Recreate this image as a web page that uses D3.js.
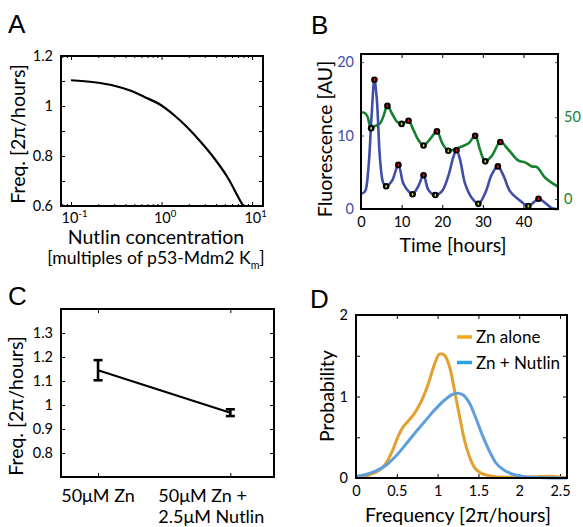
<!DOCTYPE html>
<html><head><meta charset="utf-8">
<script src="https://cdn.jsdelivr.net/npm/d3@7"></script>
<style>
html,body{margin:0;padding:0;background:#fff;}
text{font-family:Lato,"Open Sans",sans-serif;}
</style></head>
<body><svg id="c" width="583" height="527"></svg>
<script>
// ---------- DATA ----------
// Panel A: model frequency vs Nutlin concentration
const aNutlin = [0.1, 0.18, 0.30, 0.458, 0.64, 0.98, 1.37, 1.92, 2.70, 3.78, 5.31, 7.76, 8.0];
const aFreq   = [1.103, 1.095, 1.081, 1.061, 1.037, 1.004, 0.964, 0.915, 0.857, 0.793, 0.717, 0.608, 0.6];
const aXTicks = [0.1, 1, 10];
const aXTickExp = ["-1", "0", "1"];
const aYTicks = [0.6, 0.7, 0.8, 0.9, 1.0, 1.1, 1.2];

// Panel B: fluorescence traces
const bBlueT = [0.16,1,1.8,2.6,3.3,3.9,4.7,5.5,6.2,7.6,9.2,10.4,11.7,12.7,14.1,15.4,16.6,18.3,19.9,21.5,22.8,23.5,24.4,25.6,27.3,28.9,30.6,32.2,33.7,35.1,36.7,38.8,41.2,42.5,43.7,45.4,47,48.5];
const bBlueV = [2.1,2.4,5.4,12.6,17.6,14.9,6.7,3.5,3.1,3.8,6.0,3.5,2.4,2.0,3.1,4.6,2.6,1.9,2.4,4.5,7.2,8.0,6.7,3.5,1.5,0.7,2.2,4.7,5.8,4.5,2.4,1.3,0.4,0.9,1.4,0.8,0.1,0];
const bGreenT = [0.2,1,1.6,2.5,3.5,4.7,5.5,6.5,7.6,8.8,10,10.8,11.7,12.9,14.1,15.4,17,18.7,20,21.5,23.2,24.8,26.5,28.1,29.3,30.6,32.2,34.3,36.3,38.8,40.4,42.1,43.3,45.4,48.5];
const bGreenV = [53,52.4,50.4,43.3,44.7,46.3,50.4,56.9,52.4,47.4,45.9,46.8,47.8,42.3,36.2,32.7,36.6,41.3,34.1,29.5,30.5,32.1,34.1,38.6,30.1,23,26.4,34.8,30.1,23.4,22.4,19.9,19.5,12.8,7.5];
const bBluePeakT = [3.3, 9.2, 15.4, 23.5, 33.7, 43.7];
const bBluePeakV = [17.6, 6.0, 4.6, 8.0, 5.8, 1.4];
const bBlueTroughT = [6.2, 12.7, 18.3, 28.9, 41.2];
const bBlueTroughV = [3.1, 2.0, 1.9, 0.7, 0.4];
const bGreenPeakT = [6.5, 11.7, 18.7, 28.1, 34.3];
const bGreenPeakV = [56.9, 47.8, 41.3, 38.6, 34.8];
const bGreenTroughT = [2.5, 10, 15.4, 21.5, 30.6];
const bGreenTroughV = [43.3, 45.9, 32.7, 29.5, 23];
const bXTicks = [0, 10, 20, 30, 40];
const bYLTicks = [0, 10, 20];
const bYRTicks = [0, 50];

// Panel C: measured frequency
const cCategories = ["50\u03BCM Zn", "50\u03BCM Zn +|2.5\u03BCM Nutlin"];
const cMean = [1.145, 0.968];
const cErr  = [0.042, 0.014];
const cYTicks = [0.8, 0.9, 1.0, 1.1, 1.2, 1.3];

// Panel D: frequency distributions
const dSeries = ["Zn alone", "Zn + Nutlin"];
const dZnX = [0,0.11,0.19,0.28,0.36,0.44,0.52,0.58,0.64,0.72,0.80,0.88,0.96,1.02,1.05,1.09,1.15,1.21,1.27,1.33,1.39,1.45,1.53,1.65,1.81,2.0,2.2,2.38,2.5,2.585];
const dZnY = [0.017,0.02,0.05,0.09,0.17,0.32,0.52,0.63,0.70,0.80,0.94,1.14,1.39,1.52,1.525,1.50,1.35,1.06,0.75,0.46,0.26,0.13,0.06,0.025,0.01,0.01,0.015,0.02,0.01,0.004];
const dNutX = [0,0.11,0.23,0.36,0.48,0.60,0.72,0.84,0.96,1.09,1.17,1.24,1.31,1.39,1.47,1.55,1.63,1.71,1.81,1.94,2.1,2.3,2.585];
const dNutY = [0.02,0.04,0.08,0.15,0.26,0.40,0.55,0.69,0.83,0.96,1.02,1.04,1.02,0.92,0.73,0.52,0.34,0.19,0.10,0.04,0.012,0.004,0];
const dXTicks = [0, 0.5, 1, 1.5, 2, 2.5];
const dYTicks = [0, 0.5, 1, 1.5, 2];

// ---------- DRAW ----------
const svg = d3.select("#c");
const TICKFS = 14.5, TITLEFS = 19.5;

function box(x0, y0, x1, y1){
  svg.append("rect").attr("x",x0).attr("y",y0).attr("width",x1-x0).attr("height",y1-y0)
    .attr("fill","none").attr("stroke","#000").attr("stroke-width",2);
}
function styleAxis(g, color){
  g.select(".domain").remove();
  g.selectAll(".tick line").attr("stroke", color||"#000").attr("stroke-width",1);
  g.selectAll(".tick text").attr("font-size",TICKFS).attr("fill", color||"#000").attr("font-family","Lato");
}
function letter(t, x, y){
  svg.append("text").attr("x",x).attr("y",y).text(t).attr("font-size",26)
    .style("font-family","'Liberation Sans',Arial,sans-serif");
}
function ytitle(t, x, y, color){
  return svg.append("text").attr("transform",`translate(${x},${y}) rotate(-90)`)
    .attr("text-anchor","middle").attr("font-size",TITLEFS).attr("fill",color||"#000").text(t);
}

// ===== Panel A =====
{
  const L=61,R=263,T=56,B=206;
  const x = d3.scaleLog().domain([0.0775, 13.2]).range([L,R]);
  const y = d3.scaleLinear().domain([0.6,1.2]).range([B,T]);
  const minor = [];
  [0.01,0.1,1,10].forEach(d=>{ for(let k=2;k<=9;k++){ const v=d*k; if(v>0.0775&&v<13.2) minor.push(v);} });
  svg.append("g").attr("transform",`translate(0,${B})`).call(d3.axisBottom(x).tickValues(minor).tickSize(-2).tickFormat("")).call(styleAxis);
  svg.append("g").attr("transform",`translate(0,${T})`).call(d3.axisTop(x).tickValues(minor).tickSize(-2).tickFormat("")).call(styleAxis);
  svg.append("g").attr("transform",`translate(0,${T})`).call(d3.axisTop(x).tickValues(aXTicks).tickSize(-4).tickFormat("")).call(styleAxis);
  const gx = svg.append("g").attr("transform",`translate(0,${B})`)
    .call(d3.axisBottom(x).tickValues(aXTicks).tickSize(-4).tickPadding(7).tickFormat(()=>""));
  styleAxis(gx);
  gx.selectAll(".tick text").each(function(d,i){
    const t=d3.select(this);
    t.append("tspan").text("10");
    t.append("tspan").text(aXTickExp[i]).attr("dy",-6).attr("font-size",9.5);
  }).attr("dy","0.71em").attr("dx","3");
  const fmt = v => (Math.round(v*10)%2===0 ? (Math.abs(v-1)<1e-9?"1":v.toFixed(1)) : "");
  const gy = svg.append("g").attr("transform",`translate(${L},0)`)
    .call(d3.axisLeft(y).tickValues(aYTicks).tickSize(-4).tickPadding(8).tickFormat(fmt));
  styleAxis(gy);
  svg.append("g").attr("transform",`translate(${R},0)`)
    .call(d3.axisRight(y).tickValues(aYTicks).tickSize(-4).tickFormat("")).call(styleAxis);
  const line = d3.line().x((d,i)=>x(aNutlin[i])).y(d=>y(d)).curve(d3.curveMonotoneX);
  svg.append("path").attr("d",line(aFreq)).attr("fill","none").attr("stroke","#000").attr("stroke-width",2.2);
  box(L,T,R,B);
  letter("A", 8, 33);
  ytitle("Freq. [2\u03C0/hours]", 25, 134);
  svg.append("text").attr("x",156).attr("y",244).attr("text-anchor","middle").attr("font-size",TITLEFS).text("Nutlin concentration");
  const t2 = svg.append("text").attr("x",156).attr("y",264).attr("text-anchor","middle").attr("font-size",17.6);
  t2.append("tspan").text("[multiples of p53-Mdm2 K");
  t2.append("tspan").text("m").attr("font-size",10.5).attr("dy",5);
  t2.append("tspan").text("]").attr("dy",-5);
}

// ===== Panel B =====
{
  const L=361,R=558,T=54,B=209;
  const x = d3.scaleLinear().domain([0,48.5]).range([L,R]);
  const yl = d3.scaleLinear().domain([0,21.1]).range([B,T]);
  const yr = d3.scaleLinear().domain([-6.1,88.6]).range([B,T]);
  const blue="#3f4ea6", green="#16812f";
  const gx = svg.append("g").attr("transform",`translate(0,${B})`)
    .call(d3.axisBottom(x).tickValues(bXTicks).tickSize(-4).tickPadding(8).tickFormat(d3.format("d")));
  styleAxis(gx);
  svg.append("g").attr("transform",`translate(0,${T})`)
    .call(d3.axisTop(x).tickValues(bXTicks).tickSize(-4).tickFormat("")).call(styleAxis);
  const gyl = svg.append("g").attr("transform",`translate(${L},0)`)
    .call(d3.axisLeft(yl).tickValues(bYLTicks).tickSize(-3).tickPadding(7).tickFormat(d3.format("d")));
  styleAxis(gyl, blue);
  svg.append("g").attr("transform",`translate(${R},0)`)
    .call(d3.axisRight(yl).tickValues(bYLTicks).tickSize(-3).tickFormat("")).call(g=>styleAxis(g,blue));
  const gyr = svg.append("g").attr("transform",`translate(${R},0)`)
    .call(d3.axisRight(yr).tickValues(bYRTicks).tickSize(-3).tickPadding(6).tickFormat(d3.format("d")));
  styleAxis(gyr, green);
  const lb = d3.line().x((d,i)=>x(bBlueT[i])).y(d=>yl(d)).curve(d3.curveCatmullRom.alpha(0.5));
  const lg = d3.line().x((d,i)=>x(bGreenT[i])).y(d=>yr(d)).curve(d3.curveCatmullRom.alpha(0.5));
  svg.append("path").attr("d",lg(bGreenV)).attr("fill","none").attr("stroke",green).attr("stroke-width",2.6);
  svg.append("path").attr("d",lb(bBlueV)).attr("fill","none").attr("stroke",blue).attr("stroke-width",2.6);
  function dots(ts, vs, ys, col){
    const g = svg.append("g");
    ts.forEach((t,i)=>{
      g.append("circle").attr("cx",x(t)).attr("cy",ys(vs[i])).attr("r",3.3).attr("fill","#000");
      g.append("ellipse").attr("cx",x(t)).attr("cy",ys(vs[i])).attr("rx",0.9).attr("ry",1.6).attr("fill",col);
    });
  }
  dots(bGreenPeakT,bGreenPeakV,yr,"#e01010");
  dots(bGreenTroughT,bGreenTroughV,yr,"#a6d632");
  dots(bBluePeakT,bBluePeakV,yl,"#e01010");
  dots(bBlueTroughT,bBlueTroughV,yl,"#a6d632");
  box(L,T,R,B);
  letter("B", 311, 34);
  ytitle("Fluorescence [AU]", 332, 139);
  svg.append("text").attr("x",453).attr("y",252).attr("text-anchor","middle").attr("font-size",TITLEFS).text("Time [hours]");
}

// ===== Panel C =====
{
  const L=61,R=274,T=309,B=477;
  const x = d3.scaleLinear().domain([0.72,2.33]).range([L,R]);
  const y = d3.scaleLinear().domain([0.7,1.4]).range([B,T]);
  const cx = [1,2];
  svg.append("g").attr("transform",`translate(0,${B})`)
    .call(d3.axisBottom(x).tickValues(cx).tickSize(-4).tickFormat("")).call(styleAxis);
  svg.append("g").attr("transform",`translate(0,${T})`)
    .call(d3.axisTop(x).tickValues(cx).tickSize(-4).tickFormat("")).call(styleAxis);
  const gy = svg.append("g").attr("transform",`translate(${L},0)`)
    .call(d3.axisLeft(y).tickValues(cYTicks).tickSize(-4).tickPadding(8).tickFormat(v=>Math.abs(v-1)<1e-9?"1":v.toFixed(1)));
  styleAxis(gy);
  svg.append("g").attr("transform",`translate(${R},0)`)
    .call(d3.axisRight(y).tickValues(cYTicks).tickSize(-4).tickFormat("")).call(styleAxis);
  const line = d3.line().x((d,i)=>x(cx[i])).y(d=>y(d));
  svg.append("path").attr("d",line(cMean)).attr("fill","none").attr("stroke","#000").attr("stroke-width",2);
  cMean.forEach((m,i)=>{
    const xx = x(cx[i]);
    svg.append("line").attr("x1",xx).attr("x2",xx).attr("y1",y(m-cErr[i])).attr("y2",y(m+cErr[i])).attr("stroke","#000").attr("stroke-width",2.6);
    [m-cErr[i], m+cErr[i]].forEach(v=>{
      svg.append("line").attr("x1",xx-4.5).attr("x2",xx+4.5).attr("y1",y(v)).attr("y2",y(v)).attr("stroke","#000").attr("stroke-width",2.6);
    });
  });
  // category labels
  svg.append("text").attr("x",x(1)).attr("y",502).attr("text-anchor","middle").attr("font-size",18).text(cCategories[0]);
  const parts = cCategories[1].split("|");
  svg.append("text").attr("x",x(2)-72).attr("y",502).attr("font-size",18).text(parts[0]);
  svg.append("text").attr("x",x(2)-72).attr("y",523).attr("font-size",18).text(parts[1]);
  box(L,T,R,B);
  letter("C", 8, 305);
  ytitle("Freq. [2\u03C0/hours]", 23, 406);
}

// ===== Panel D =====
{
  const L=356,R=567,T=315,B=478;
  const x = d3.scaleLinear().domain([0,2.585]).range([L,R]);
  const y = d3.scaleLinear().domain([0,2]).range([B,T]);
  const orange="#e3a030", lblue="#5e9fdb";
  const gx = svg.append("g").attr("transform",`translate(0,${B})`)
    .call(d3.axisBottom(x).tickValues(dXTicks).tickSize(-4).tickPadding(8).tickFormat(v=>String(v)));
  styleAxis(gx);
  svg.append("g").attr("transform",`translate(0,${T})`)
    .call(d3.axisTop(x).tickValues(dXTicks).tickSize(-4).tickFormat("")).call(styleAxis);
  const gy = svg.append("g").attr("transform",`translate(${L},0)`)
    .call(d3.axisLeft(y).tickValues(dYTicks).tickSize(-4).tickPadding(8).tickFormat(v=>Number.isInteger(v)?String(v):""));
  styleAxis(gy);
  svg.append("g").attr("transform",`translate(${R},0)`)
    .call(d3.axisRight(y).tickValues(dYTicks).tickSize(-4).tickFormat("")).call(styleAxis);
  const lz = d3.line().x((d,i)=>x(dZnX[i])).y(d=>y(d)).curve(d3.curveMonotoneX);
  const ln = d3.line().x((d,i)=>x(dNutX[i])).y(d=>y(d)).curve(d3.curveMonotoneX);
  svg.append("path").attr("d",lz(dZnY)).attr("fill","none").attr("stroke",orange).attr("stroke-width",3);
  svg.append("path").attr("d",ln(dNutY)).attr("fill","none").attr("stroke",lblue).attr("stroke-width",3);
  // legend
  const lgCols = ["#f2a81d","#2ea2e0"];
  dSeries.forEach((s,i)=>{
    const yy = 337 + i*25.5;
    svg.append("line").attr("x1",457).attr("x2",472).attr("y1",yy).attr("y2",yy).attr("stroke",lgCols[i]).attr("stroke-width",3.5);
    svg.append("text").attr("x",476).attr("y",yy+6).attr("font-size",17).text(s);
  });
  box(L,T,R,B);
  letter("D", 310, 308);
  ytitle("Probability", 334, 396);
  svg.append("text").attr("x",458).attr("y",522).attr("text-anchor","middle").attr("font-size",TITLEFS).text("Frequency [2\u03C0/hours]");
}
</script></body></html>
